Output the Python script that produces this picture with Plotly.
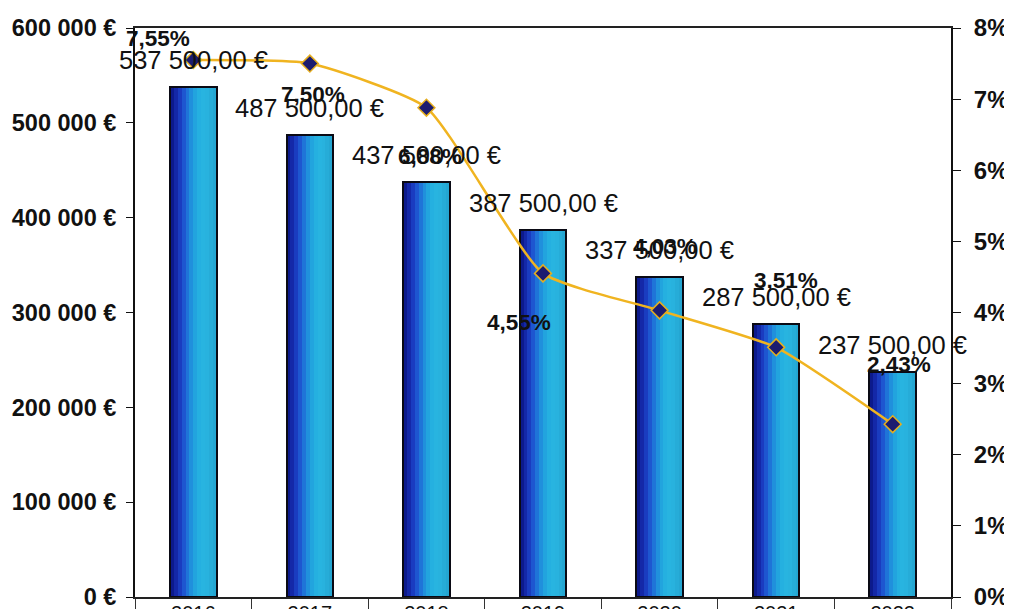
import plotly.graph_objects as go

# ---- data ----
years = ["2016", "2017", "2018", "2019", "2020", "2021", "2022"]
amounts = [537500, 487500, 437500, 387500, 337500, 287500, 237500]
amount_labels = ["537 500,00 €", "487 500,00 €", "437 500,00 €", "387 500,00 €",
                 "337 500,00 €", "287 500,00 €", "237 500,00 €"]
rates = [7.55, 7.50, 6.88, 4.55, 4.03, 3.51, 2.43]
rate_labels = ["7,55%", "7,50%", "6,88%", "4,55%", "4,03%", "3,51%", "2,43%"]
left_ticks = [0, 100000, 200000, 300000, 400000, 500000, 600000]
left_ticktext = ["0 €", "100 000 €", "200 000 €", "300 000 €", "400 000 €", "500 000 €", "600 000 €"]
right_ticks = [0, 1, 2, 3, 4, 5, 6, 7, 8]
right_ticktext = ["0%", "1%", "2%", "3%", "4%", "5%", "6%", "7%", "8%"]

# ---- style ----
FONT = "Liberation Sans, Arial, sans-serif"
bar_width = 0.40
gradient = ["#0c1a8c", "#1428a8", "#1a3cc0", "#1e56d0", "#1f74d8", "#2090dc",
            "#22a4de", "#25b0e0", "#28b4e0", "#28b2de", "#26acd8", "#24a6d2"]
# pixel offsets (dx, dy) of rate labels from their markers
rate_offsets = [(-35, 22), (3, -31), (4, -49), (-24, -49), (5, 64), (10, 67), (6, 60)]
amount_label_shift = 27

fig = go.Figure()

n = len(gradient)
w = bar_width / n
for i, col in enumerate(gradient):
    fig.add_trace(go.Bar(
        x=years, y=amounts, offset=-bar_width / 2 + i * w, width=w * 1.08,
        marker=dict(color=col, line=dict(width=0)), showlegend=False,
        hoverinfo="skip", yaxis="y"))

# outline
fig.add_trace(go.Bar(
    x=years, y=amounts, offset=-bar_width / 2, width=bar_width,
    marker=dict(color="rgba(0,0,0,0)", line=dict(color="#0a0a14", width=2)),
    showlegend=False, yaxis="y"))

fig.add_trace(go.Scatter(
    x=years, y=rates, yaxis="y2", mode="lines+markers",
    line=dict(color="#f0b420", width=2.5, shape="spline", smoothing=0.5),
    marker=dict(symbol="diamond", size=13, color="#1c1c70",
                line=dict(color="#e6ae1e", width=1.5)),
    showlegend=False))

# category axis annotations use the category index (labels look numeric)
annotations = []
for i, (v, t) in enumerate(zip(amounts, amount_labels)):
    annotations.append(dict(x=i, y=v, xref="x", yref="y", text=t, showarrow=False,
                            yshift=amount_label_shift,
                            font=dict(family=FONT, size=25.5, color="#111111")))
for i, (r, t, (dx, dy)) in enumerate(zip(rates, rate_labels, rate_offsets)):
    annotations.append(dict(x=i, y=r, xref="x", yref="y2", text="<b>" + t + "</b>",
                            showarrow=False, xshift=dx, yshift=dy,
                            font=dict(family=FONT, size=22.5, color="#111111")))

fig.update_layout(
    width=1012, height=609,
    margin=dict(l=127, r=69, t=20, b=20, autoexpand=False),
    paper_bgcolor="white", plot_bgcolor="white",
    barmode="overlay", bargap=0,
    annotations=annotations,
    xaxis=dict(
        type="category", showline=True, linecolor="#222222", linewidth=1.5, mirror=True,
        ticks="outside", tickson="boundaries", ticklen=20, tickcolor="#333333", tickwidth=1,
        ticklabelstandoff=-3, automargin=False,
        tickfont=dict(family=FONT, size=20, color="#111111"), showgrid=False,
        range=[-0.5, 6.5]),
    yaxis=dict(
        range=[0, 600000], tickvals=left_ticks, ticktext=left_ticktext, automargin=False,
        showline=True, linecolor="#111111", linewidth=2, ticks="outside", ticklen=7,
        tickcolor="#111111", ticklabelstandoff=5, showgrid=False, zeroline=False,
        tickfont=dict(family=FONT, size=23.5, color="#111111", weight="bold")),
    yaxis2=dict(
        overlaying="y", side="right", range=[0, 8], tickvals=right_ticks, automargin=False,
        ticktext=right_ticktext, showline=True, linecolor="#111111", linewidth=2,
        ticks="outside", ticklen=8, tickcolor="#111111", ticklabelstandoff=8,
        showgrid=False, zeroline=False,
        tickfont=dict(family=FONT, size=24, color="#111111", weight="bold")),
)

fig.write_html("out.html")
